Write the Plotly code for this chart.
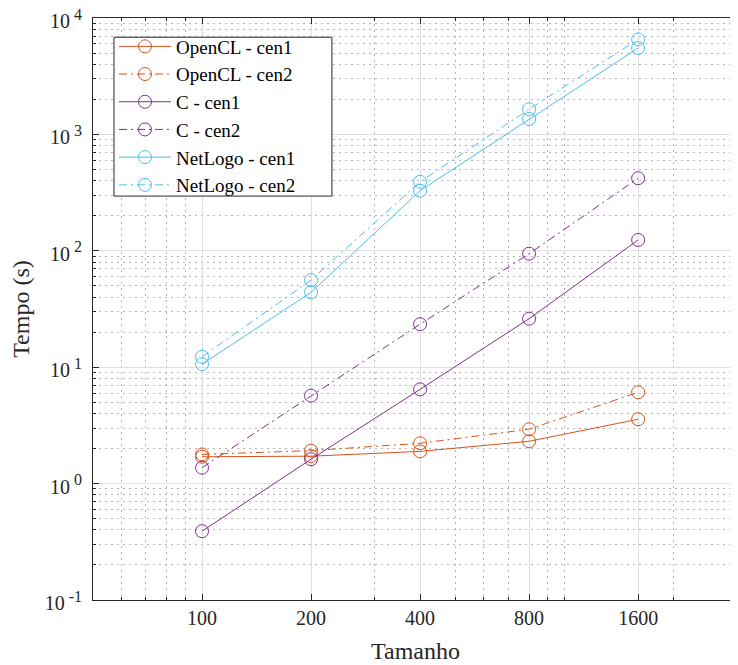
import plotly.graph_objects as go
import numpy as np

sizes = [100, 200, 400, 800, 1600]
opencl_cen1 = [1.70, 1.72, 1.89, 2.31, 3.57]
opencl_cen2 = [1.78, 1.92, 2.22, 2.93, 6.09]
c_cen1 = [0.39, 1.62, 6.45, 26.1, 124]
c_cen2 = [1.37, 5.7, 23.4, 94.4, 420]
netlogo_cen1 = [10.6, 44, 328, 1356, 5520]
netlogo_cen2 = [12.3, 56, 392, 1645, 6550]

x_ticks = [100, 200, 400, 800, 1600]
x_ticklabels = ["100", "200", "400", "800", "1600"]
y_ticks = [0.1, 1, 10, 100, 1000, 10000]
y_exps = ["-1", "0", "1", "2", "3", "4"]
y_ticklabels = ["10<sup><span style='font-size:16px'> %s</span></sup>" % e for e in y_exps]

x_minor = [60, 70, 80, 90, 200, 300, 400, 500, 600, 700, 800, 900, 1000, 2000, 3000]
y_minor = [k * 10.0 ** d for d in range(-1, 4) for k in range(2, 10)]

ORANGE = "#D95319"
PURPLE = "#7E2F8E"
BLUE = "#4DBEEE"
DASHDOT = "8px,4px,2px,4px"

series = [
    ("OpenCL - cen1", opencl_cen1, ORANGE, "solid"),
    ("OpenCL - cen2", opencl_cen2, ORANGE, DASHDOT),
    ("C - cen1", c_cen1, PURPLE, "solid"),
    ("C - cen2", c_cen2, PURPLE, DASHDOT),
    ("NetLogo - cen1", netlogo_cen1, BLUE, "solid"),
    ("NetLogo - cen2", netlogo_cen2, BLUE, DASHDOT),
]

fig = go.Figure()
for name, vals, col, dash in series:
    fig.add_trace(go.Scatter(
        x=sizes, y=vals, name=name, mode="lines+markers",
        line=dict(color=col, width=1, dash=dash),
        marker=dict(symbol="circle-open", size=13, color=col, line=dict(width=1, color=col)),
    ))

FONT = "Liberation Serif, Times New Roman, serif"
AX = "#262626"

# page body has an 8px margin: plot area should sit at x 93..737, y 18..600 in the window
fig.update_layout(
    width=738, height=665,
    margin=dict(l=85, r=9, t=10, b=73),
    paper_bgcolor="white", plot_bgcolor="white",
    font=dict(family=FONT, size=20, color=AX),
    showlegend=True,
    legend=dict(
        x=0.0326, y=0.9837, xanchor="left", yanchor="top",
        bgcolor="rgba(0,0,0,0)", borderwidth=0,
        font=dict(family=FONT, size=19, color="black"),
        itemwidth=52, tracegroupgap=0,
    ),
    shapes=[dict(type="rect", xref="paper", yref="paper",
                 x0=0.0326, x1=0.371, y0=0.694, y1=0.967,
                 fillcolor="white", line=dict(color=AX, width=1), layer="above")],
    annotations=[
        dict(text="Tempo (s)", xref="paper", yref="paper",
             x=-0.112, y=0.5, xanchor="center", yanchor="middle",
             textangle=-90, showarrow=False,
             font=dict(family=FONT, size=24, color=AX)),
        dict(text="Tamanho", xref="paper", yref="paper",
             x=0.5, y=-0.0876, xanchor="center", yanchor="middle",
             showarrow=False,
             font=dict(family=FONT, size=24, color=AX)),
    ],
)

fig.update_xaxes(
    type="log", range=[np.log10(50), np.log10(3000)], automargin=False,
    tickmode="array", tickvals=x_ticks, ticktext=x_ticklabels,
    ticks="inside", ticklen=6, tickcolor=AX, tickwidth=1,
    ticklabeloverflow="allow",
    showline=True, linecolor=AX, linewidth=1, mirror="ticks",
    showgrid=True, gridcolor="#dfdfdf", gridwidth=1,
    zeroline=False,
    minor=dict(tickmode="array", tickvals=x_minor, ticks="inside", ticklen=3,
               tickcolor=AX, showgrid=True, gridcolor="#b5b5b5", griddash="2px,4px", gridwidth=1),
    tickfont=dict(family=FONT, size=20, color=AX),
)
fig.update_yaxes(
    type="log", range=[-1, 4], automargin=False,
    tickmode="array", tickvals=y_ticks, ticktext=y_ticklabels,
    ticks="inside", ticklen=6, tickcolor=AX, tickwidth=1,
    ticklabelstandoff=6, ticklabelshift=3, ticklabeloverflow="allow",
    showline=True, linecolor=AX, linewidth=1, mirror="ticks",
    showgrid=True, gridcolor="#dfdfdf", gridwidth=1,
    zeroline=False,
    minor=dict(tickmode="array", tickvals=y_minor, ticks="inside", ticklen=3,
               tickcolor=AX, showgrid=True, gridcolor="#b5b5b5", griddash="2px,4px", gridwidth=1),
    tickfont=dict(family=FONT, size=20, color=AX),
)

fig.write_html("out.html")
